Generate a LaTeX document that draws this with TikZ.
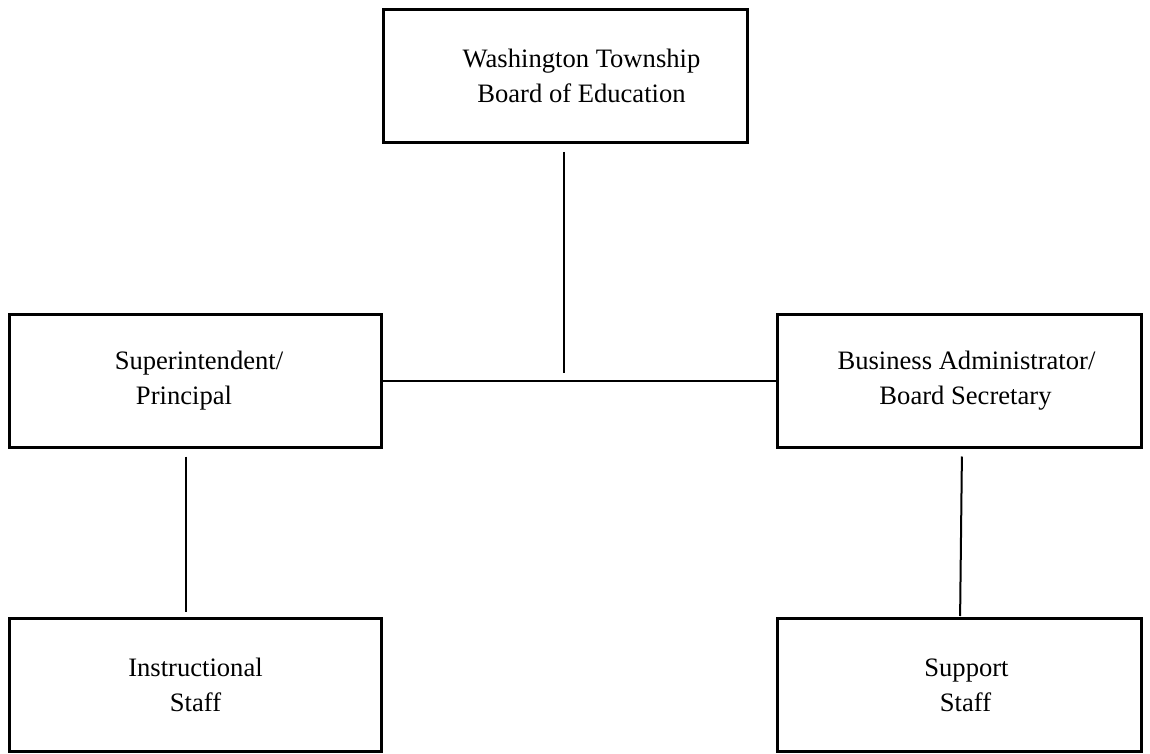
\documentclass[tikz,border=0pt]{standalone}
\usepackage{fontspec}
\setmainfont{Liberation Serif}
\usepackage{tikz}
\usetikzlibrary{positioning}
\tikzstyle{orgbox} = [rectangle, minimum width=182pt, minimum height=66.5pt, text centered, align=center, draw=black, line width=1.5pt, font=\fontsize{13.3}{17.5}\selectfont]
\tikzstyle{widebox} = [orgbox, minimum width=186pt]
\tikzstyle{link} = [line width=1pt]
\begin{document}
\begin{tikzpicture}[node distance=152.25pt]
        \useasboundingbox (0,0) rectangle (575pt,-377pt);

        \node (board) [orgbox] at (282.75pt,-38pt) {\hspace*{16pt}Washington Township\\\hspace*{16pt}Board of Education};
        \node (super) [widebox, below of=board, xshift=-185pt] {\hspace*{3.5pt}Superintendent/\\Principal\hspace*{11.5pt}};
        \node (business) [orgbox, below of=board, xshift=197pt] {\hspace*{7pt}Business Administrator/\\\hspace*{6pt}Board Secretary};
        \node (instr) [widebox, below of=super] {Instructional\\Staff};
        \node (support) [orgbox, below of=business] {\hspace*{7pt}Support\\\hspace*{6pt}Staff};
        \coordinate (junction) at (board.south |- super.east);

        \draw [link] ([xshift=-1pt,yshift=-4pt]board.south) -- ([xshift=-1pt,yshift=4pt]junction);
        \draw [link] (super) -- (business);
        \draw [link] ([xshift=-5pt,yshift=-4pt]super.south) -- ([xshift=-5pt,yshift=2.5pt]instr.north);
        \draw [link] ([xshift=1.2pt,yshift=-4pt]business.south) -- ([xshift=0.3pt,yshift=0.5pt]support.north);

      \end{tikzpicture}
\end{document}
